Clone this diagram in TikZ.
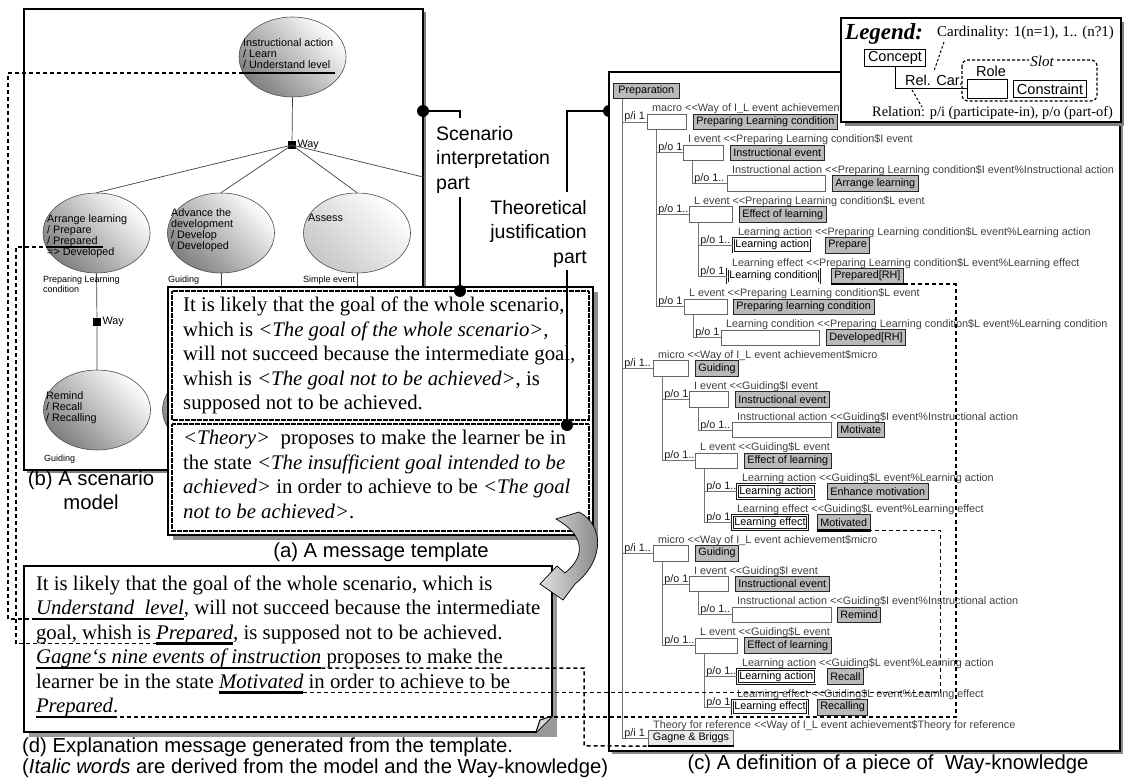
\documentclass[tikz,border=0pt]{standalone}
\usepackage{fontspec}
\setmainfont{Liberation Serif}
\newfontfamily\arial{Liberation Sans}
\usetikzlibrary{shapes.geometric,calc}

\newcommand\fTpl{\fontsize{20.8}{24.5}\selectfont}
\newcommand\fCap{\arial\fontsize{20.3}{23.5}\selectfont}
\newcommand\fCall{\arial\fontsize{19.5}{24.5}\selectfont}
\newcommand\fEl{\arial\fontsize{10.8}{11.3}\selectfont}
\newcommand\fSm{\arial\fontsize{9}{9.8}\selectfont}
\newcommand\fTr{\arial\fontsize{10.8}{12}\selectfont}
\newcommand\fLg{\fontsize{15}{17}\selectfont}
\newcommand\fLgR{\fontsize{14.4}{17}\selectfont}
\newcommand\fLgS{\arial\fontsize{14.5}{16}\selectfont}

\tikzset{
  ell/.style={ellipse, draw=black!70, line width=0.6pt, minimum width=107pt, minimum height=80pt, inner sep=0pt,
    shading=axis, top color=white, bottom color=black!50, shading angle=-45},
  elllight/.style={ell, top color=white, bottom color=black!22, shading angle=-45},
  eltxt/.style={font=\fEl, align=left, anchor=north west, inner sep=0pt},
  smlab/.style={font=\fSm, align=left, anchor=north west, inner sep=0pt},
  gline/.style={draw=black!75, line width=0.7pt},
  waysq/.style={fill=black, minimum size=8.5pt, inner sep=0pt},
  wbox/.style={draw=black!60, fill=white, line width=0.7pt, minimum height=15.5pt, inner sep=0pt, outer sep=0pt},
  dbox/.style={draw=black!90, double=white, double distance=1.2pt, line width=0.65pt, fill=white, minimum height=14pt, inner xsep=2pt, inner ysep=0pt, font=\fTr, anchor=west},
  gbox/.style={draw=black!85, fill=black!27, line width=0.8pt, minimum height=15.5pt, inner xsep=3pt, inner ysep=0pt, font=\fTr, anchor=west},
  tline/.style={draw=black!55, line width=0.8pt},
  slab/.style={font=\fTr, text=black!75, anchor=base west, inner sep=0pt},
  clab/.style={font=\fTr, text=black!90, anchor=base west, inner sep=0pt},
  ul/.style={line width=2.2pt, black},
  dsh/.style={line width=1.5pt, black, dash pattern=on 4pt off 3pt},
  cline/.style={line width=2.6pt, black},
  bdot/.style={circle, fill=black, inner sep=0pt, minimum size=12pt},
  txt/.style={inner sep=0pt, outer sep=0pt, anchor=base west, font=\fTpl},
  dotbox/.style={draw=black, line width=2pt, dash pattern=on 0.6pt off 0.6pt},
  lbox/.style={draw=black, fill=white, line width=0.8pt, font=\fLgS, inner xsep=3.5pt, inner ysep=0pt, minimum height=17pt},
}

\newcommand\Row[9]{%
  \node[wbox, minimum width={#6pt-#5pt}, anchor=west] (#1) at (#5,#3) {};
  \draw[tline] ([xshift=9.5pt]#2.south west) |- (#1.west) node[clab, pos=0.5, xshift=1.5pt, yshift=2pt] {#4};
  \node[slab] at (#5+5,#3-10) {#7};
  \node[gbox] (#1g) at (#8,#3) {#9};
}
\newcommand\RowD[9]{%
  \node[dbox] (#1) at (#5,#3) {#6};
  \draw[tline] ([xshift=9.5pt]#2.south west) |- (#1.west) node[clab, pos=0.5, xshift=1.5pt, yshift=2pt] {#4};
  \node[slab] at (#5+5,#3-10) {#7};
  \node[gbox] (#1g) at (#8,#3) {#9};
}

\begin{document}
\begin{tikzpicture}[x=1pt,y=-1pt]
\path[use as bounding box, fill=white] (0,0) rectangle (1124,778);

% ---------------- (b) scenario model ----------------
\fill[black!50] (27,12) rectangle (426,473);
\draw[line width=2pt, fill=white] (24,9) rectangle (423,470);

\node[ell] (e0) at (292.5,57) {};
\node[ell] (e1) at (96.5,233) {};
\node[ell] (e2) at (221,233) {};
\node[elllight] (e3) at (357,233) {};
\node[ell] (e4) at (97,410) {};
\node[ell] (e5) at (216,410) {};

\node[waysq] (way1) at (292,145) {};
\node[font=\fEl, anchor=west, inner sep=1pt] (way1l) at (way1.east) {Way};
\coordinate (c4) at (423,177);
\draw[gline] (e0.south) -- (way1);
\draw[gline] (way1.center) -- (e1.north);
\draw[gline] (way1.center) -- (e2.north);
\draw[gline] (way1.center) -- (e3.north);
\draw[gline] (way1.center) -- (c4);
\node[waysq] (way2) at (97,322) {};
\node[font=\fEl, anchor=west, inner sep=1pt] (way2l) at (way2.east) {Way};
\draw[gline] (e1.south) -- (way2) -- (e4.north);
\coordinate (c2) at ($(e2.south)+(0,20)$);
\coordinate (c3) at ($(e3.south)+(0,20)$);
\draw[gline] (e2.south) -- (c2);
\draw[gline] (e3.south) -- (c3);

\node[eltxt] (e0t) at (243,38) {Instructional action\\/ Learn\\/ Understand level};
\node[eltxt] (e1t) at (47,214) {Arrange learning\\/ Prepare\\/ Prepared\\=> Developed};
\node[eltxt] (e2t) at (171,208) {Advance the\\development\\/ Develop\\/ Developed};
\node[eltxt] (e3t) at (308,214) {Assess};
\node[eltxt] (e4t) at (46,391) {Remind\\/ Recall\\/ Recalling};
\node[smlab] (l1) at (43,276) {Preparing Learning\\condition};
\node[smlab] (l2) at (168,276) {Guiding};
\node[smlab] (l3) at (303,276) {Simple event};
\node[smlab] (l4) at (44,455) {Guiding};

\coordinate (u0w) at (243,73);
\coordinate (u0e) at (335,73);
\draw[ul] (u0w) -- (u0e);
\coordinate (u1w) at (50,247);
\coordinate (u1e) at (103,247);
\draw[ul] (u1w) -- (u1e);

% ---------------- (a) message template ----------------
\fill[black!45] (173,292) rectangle (598,540);
\draw[line width=1.8pt, fill=white] (168,287) rectangle (593,535);
\draw[dotbox] (172,291) rectangle (589,420);
\draw[dotbox] (172,424) rectangle (589,531);
\node[anchor=north west, inner sep=0pt, align=left, font=\fTpl] (t1) at (183,297)
 {It is likely that the goal of the whole scenario,\\
  which is \textit{<The goal of the whole scenario>,}\\
  will not succeed because the intermediate goal,\\
  whish is \textit{<The goal not to be achieved>}, is\\
  supposed not to be achieved.};
\node[anchor=north west, inner sep=0pt, align=left, font=\fTpl] (t2) at (183,430)
 {\textit{<Theory>}\ \ proposes to make the learner be in\\
  the state \textit{<The insufficient goal intended to be}\\
  \textit{achieved>} in order to achieve to be \textit{<The goal}\\
  \textit{not to be achieved>}.};

% ---------------- callouts ----------------
\node[bdot] (dotA) at (423,111) {};
\node[bdot] (dotB) at (460,291) {};
\coordinate (sA) at (460,111);
\coordinate (sB) at (460,118);
\coordinate (sC) at (460,197);
\draw[cline] (dotA) -- (sA) -- (sB);
\draw[cline] (sC) -- (dotB);
\node[font=\fCall, align=left, anchor=north west, inner sep=0pt] (sip) at (436,126) {Scenario\\interpretation\\part};

\node[bdot] (dotC) at (609,111) {};
\node[bdot] (dotD) at (567,425) {};
\coordinate (tA) at (567,111);
\coordinate (tB) at (567,192);
\coordinate (tC) at (567,270);
\draw[cline] (dotC) -- (tA) -- (tB);
\draw[cline] (tC) -- (dotD);
\node[font=\fCall, align=right, anchor=north east, inner sep=0pt] (tjp) at (587,200) {Theoretical\\justification\\part};

% ---------------- (c) Way-knowledge ----------------
\fill[black!45] (612,75) rectangle (1123,754);
\draw[line width=2pt, fill=white] (609,72) rectangle (1120,751);
\node[gbox, inner xsep=5pt] (prep) at (613,91) {Preparation};

\Row{r1}{prep}{122}{p/i 1}{647}{686}{macro <{}<Way of I\_L event achievement\$macro}{693}{Preparing Learning condition}
\Row{r2}{r1}{152.8}{p/o 1}{683}{723}{I event <{}<Preparing Learning condition\$I event}{730}{Instructional event}
\Row{r3}{r2}{183.6}{p/o 1..}{727}{825}{Instructional action <{}<Preparing Learning condition\$I event\%Instructional action}{832}{Arrange learning}
\Row{r4}{r1}{214.4}{p/o 1..}{689}{732}{L event <{}<Preparing Learning condition\$L event}{739}{Effect of learning}
\RowD{r5}{r4}{245.2}{p/o 1..}{733}{Learning action}{Learning action <{}<Preparing Learning condition\$L event\%Learning action}{825}{Prepare}
\RowD{r6}{r4}{276}{p/o 1}{727}{Learning condition}{Learning effect <{}<Preparing Learning condition\$L event\%Learning effect}{831}{Prepared[RH]}
\Row{r7}{r1}{306.8}{p/o 1}{684}{727}{L event <{}<Preparing Learning condition\$L event}{733}{Preparing learning condition}
\Row{r8}{r7}{337.6}{p/o 1}{721}{819}{Learning condition <{}<Preparing Learning condition\$L event\%Learning condition}{826}{Developed[RH]}
\Row{r9}{prep}{368.4}{p/i 1..}{653}{688}{micro <{}<Way of I\_L event achievement\$micro}{695}{Guiding}
\Row{r10}{r9}{399.2}{p/o 1}{689}{728}{I event <{}<Guiding\$I event}{735}{Instructional event}
\Row{r11}{r10}{430}{p/o 1..}{732}{831}{Instructional action <{}<Guiding\$I event\%Instructional action}{837}{Motivate}
\Row{r12}{r9}{460.8}{p/o 1..}{695}{737}{L event <{}<Guiding\$L event}{744}{Effect of learning}
\RowD{r13}{r12}{491.6}{p/o 1..}{737}{Learning action}{Learning action <{}<Guiding\$L event\%Learning action}{827}{Enhance motivation}
\RowD{r14}{r12}{522.4}{p/o 1}{732}{Learning effect}{Learning effect <{}<Guiding\$L event\%Learning effect}{817}{Motivated}
\Row{r15}{prep}{553.2}{p/i 1..}{653}{688}{micro <{}<Way of I\_L event achievement\$micro}{695}{Guiding}
\Row{r16}{r15}{584}{p/o 1}{689}{728}{I event <{}<Guiding\$I event}{735}{Instructional event}
\Row{r17}{r16}{614.8}{p/o 1..}{732}{831}{Instructional action <{}<Guiding\$I event\%Instructional action}{837}{Remind}
\Row{r18}{r15}{645.6}{p/o 1..}{695}{737}{L event <{}<Guiding\$L event}{744}{Effect of learning}
\RowD{r19}{r18}{676.4}{p/o 1..}{737}{Learning action}{Learning action <{}<Guiding\$L event\%Learning action}{827}{Recall}
\RowD{r20}{r18}{707.2}{p/o 1}{732}{Learning effect}{Learning effect <{}<Guiding\$L event\%Learning effect}{817}{Recalling}

\node[gbox, fill=black!8, draw=black!60, inner xsep=4.5pt] (gagne) at (648,738) {Gagne \& Briggs};
\draw[tline] ([xshift=9.5pt]prep.south west) |- (gagne.west) node[clab, pos=0.5, xshift=1.5pt, yshift=2pt] {p/i 1};
\node[slab] (gagl) at (653,728) {Theory for reference <{}<Way of I\_L event achievement\$Theory for reference};

\draw[ul] (r6g.south west) -- (r6g.south east);
\draw[ul] (r14g.south west) -- (r14g.south east);
\draw[ul] (gagne.south west) -- (gagne.south east);

% ---------------- legend ----------------
\fill[black!50] (845,22) rectangle (1125,126);
\draw[line width=1.2pt, fill=white] (841,18) rectangle (1121,122);
\node[font=\fontsize{23}{25}\selectfont\bfseries\itshape, anchor=base west, inner sep=0pt] (lgT) at (845,40) {Legend:};
\node[font=\fLg, anchor=base west, inner sep=0pt] (lgC) at (937,37) {Cardinality: 1(n=1), 1.. (n?1)};
\node[lbox] (lgCon) at (895,58) {Concept};
\node[font=\fLgS, anchor=base west, inner sep=0pt] (lgRC) at (905,86) {Rel. Car.};
\node[draw, fill=white, line width=0.8pt, minimum width=40pt, minimum height=19pt, inner sep=0pt] (lgRole) at (987,88.5) {};
\node[font=\fLgS, anchor=base west, inner sep=0pt] (lgRoleT) at (976,77) {Role};
\node[lbox] (lgCons) at (1050,89) {Constraint};
\draw[line width=1.2pt, dash pattern=on 3pt off 2pt, rounded corners=6pt] (962,60) rectangle (1097,101);
\node[fill=white, inner sep=1pt, font=\fLg\itshape] (lgSlot) at (1042,61) {Slot};
\draw[line width=0.8pt] (lgCon.south) |- (lgRole.west);
\coordinate (pc1) at (944,42);
\coordinate (pc2) at (934,71);
\coordinate (pr1) at (912,90);
\coordinate (pr2) at (922,107);
\draw[line width=1pt, dash pattern=on 2.5pt off 2pt] (pc1) -- (pc2);
\draw[line width=1pt, dash pattern=on 2.5pt off 2pt] (pr1) -- (pr2);
\node[font=\fLgR, anchor=base west, inner sep=0pt] (lgR) at (872,117) {Relation: p/i (participate-in), p/o (part-of)};

% ---------------- (d) explanation message ----------------
\fill[black!40] (29,571) rectangle (557,737);
\draw[line width=1.8pt, fill=white] (24,566) -- (552,566) -- (552,716) -- (536,732) -- (24,732) -- cycle;
\draw[line width=1pt, fill=black!15] (536,732) -- (540,720) -- (552,716);

\node[txt] (d1) at (36,590) {It is likely that the goal of the whole scenario, which is};
\node[txt] (dU) at (36,614.5) {\textit{Understand\ \ level}};
\node[txt] (d2b) at (dU.base east) {, will not succeed because the intermediate};
\node[txt] (d3a) at (36,639) {goal, whish is\ \null};
\node[txt] (dP1) at (d3a.base east) {\textit{Prepared}};
\node[txt] (d3c) at (dP1.base east) {, is supposed not to be achieved.};
\node[txt] (dG) at (36,663.5) {\textit{Gagne‘s nine events of instruction}};
\node[txt] (d4b) at (dG.base east) {\ proposes to make the};
\node[txt] (d5a) at (36,688) {learner be in the state\ \null};
\node[txt] (dM) at (d5a.base east) {\textit{Motivated}};
\node[txt] (d5c) at (dM.base east) {\ in order to achieve to be};
\node[txt] (dP2) at (36,712.5) {\textit{Prepared}};
\node[txt] (d6b) at (dP2.base east) {.};

\draw[ul] ([yshift=-4.5pt]dU.base west) -- ([yshift=-4.5pt]dU.base east);
\draw[ul] ([yshift=-4.5pt]dP1.base west) -- ([yshift=-4.5pt]dP1.base east);
\draw[ul] ([yshift=-4.5pt]dG.base west) -- ([yshift=-4.5pt]dG.base east);
\draw[ul] ([yshift=-4.5pt]dM.base west) -- ([yshift=-4.5pt]dM.base east);
\draw[ul] ([yshift=-4.5pt]dP2.base west) -- ([yshift=-4.5pt]dP2.base east);

% ---------------- curved arrow ----------------
\draw[line width=0.7pt, left color=black!12, right color=black!50]
  (556,519) -- (579,512) .. controls (604,525) and (605,560) .. (575,584)
  -- (563,600) -- (540,584) -- (557,566) -- (565,573)
  .. controls (585,557) and (586,536) .. (556,519) -- cycle;

% ---------------- dashed correspondences ----------------
\coordinate (gk) at (584,745.75);
\coordinate (mk) at ($(r14g.south east)+(70,0)$);
\coordinate (pk) at ($(r6g.south east)+(52,0)$);
\draw[dsh] (u0w) -- (8,73) |- ([yshift=-4.5pt]dU.base west);
\draw[dsh] (u1w) -- (16,247) |- ([yshift=-4.5pt]dP1.base west);
\draw[dsh] ([yshift=-4.5pt]dG.base east) -| (gk) -- (gagne.south west);
\draw[dsh] ([yshift=-4.5pt]dM.base east) -| (mk) -- (r14g.south east);
\draw[dsh] ([yshift=-4.5pt]dP2.base east) -| (pk) -- (r6g.south east);

% ---------------- captions ----------------
\node[font=\fCap, align=center, inner sep=0pt] (capb) at (91,490) {(b) A scenario\\model};
\node[font=\fCap, inner sep=0pt] (capa) at (381,552) {(a) A message template};
\node[font=\fCap, inner sep=0pt] (capc) at (888,764) {(c) A definition of a piece of\ \ Way-knowledge};
\node[font=\fCap, anchor=base west, inner sep=0pt] (capd1) at (22,752) {(d) Explanation message generated from the template.};
\node[font=\fCap, anchor=base west, inner sep=0pt] (capd2) at (22,773) {(\textit{Italic words} are derived from the model and the Way-knowledge)};
\end{tikzpicture}
\end{document}
